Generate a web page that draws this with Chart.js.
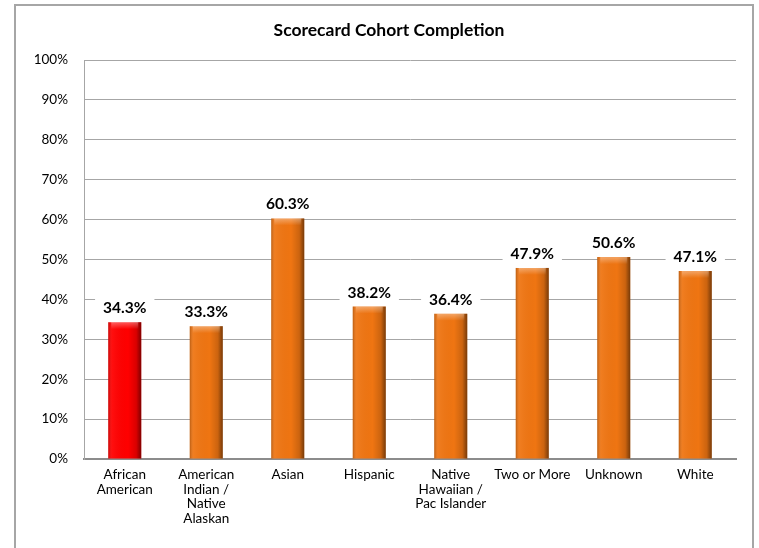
<!DOCTYPE html>
<html>
<head>
<meta charset="utf-8">
<script src="https://cdn.jsdelivr.net/npm/chart.js@4.4.1/dist/chart.umd.min.js"></script>
<style>
  body { margin: 0; background: #fff; }
  #wrap { position: relative; width: 759px; height: 548px; }
</style>
</head>
<body>
<div id="wrap"><canvas id="canvas" width="759" height="548"></canvas></div>
<script>
var categories = [
  ['African', 'American'],
  ['American', 'Indian /', 'Native', 'Alaskan'],
  'Asian',
  'Hispanic',
  ['Native', 'Hawaiian /', 'Pac Islander'],
  'Two or More',
  'Unknown',
  'White'
];
var completion = [34.3, 33.3, 60.3, 38.2, 36.4, 47.9, 50.6, 47.1];
var barColors = ['#FF0000', '#EF7512', '#EF7512', '#EF7512', '#EF7512', '#EF7512', '#EF7512', '#EF7512'];
var yTicks = [0, 10, 20, 30, 40, 50, 60, 70, 80, 90, 100];
var chartTitle = 'Scorecard Cohort Completion';

var fontName = "Lato, 'Liberation Sans', sans-serif";

// outer frame like the spreadsheet chart box, plus the title
var framePlugin = {
  id: 'frame',
  beforeDraw: function(chart){
    var c = chart.ctx;
    c.save();
    c.fillStyle = '#fff';
    c.fillRect(0, 0, chart.width, chart.height);
    c.strokeStyle = '#a6a6a6';
    c.lineWidth = 2;
    c.beginPath();
    c.moveTo(15, 600);
    c.lineTo(15, 5);
    c.lineTo(753, 5);
    c.lineTo(753, 600);
    c.stroke();
    c.fillStyle = '#000';
    c.font = 'bold 17.5px ' + fontName;
    c.textAlign = 'center';
    c.textBaseline = 'middle';
    c.fillText(chartTitle, 389, 30);
    c.restore();
  }
};

// bevel shading on the bars and the value labels above them
var barLabels = {
  id: 'barLabels',
  afterDatasetsDraw: function(chart){
    var c = chart.ctx;
    var meta = chart.getDatasetMeta(0);
    c.save();
    meta.data.forEach(function(bar, i){
      var left = bar.x - bar.width / 2;
      var right = bar.x + bar.width / 2;
      var g = c.createLinearGradient(left, 0, right, 0);
      g.addColorStop(0, 'rgba(0,0,0,0.22)');
      g.addColorStop(0.12, 'rgba(255,255,255,0.06)');
      g.addColorStop(0.6, 'rgba(0,0,0,0)');
      g.addColorStop(0.85, 'rgba(0,0,0,0.15)');
      g.addColorStop(1, 'rgba(0,0,0,0.5)');
      c.fillStyle = g;
      c.fillRect(left, bar.y, bar.width, bar.base - bar.y);
      // top bevel
      var t = c.createLinearGradient(0, bar.y, 0, bar.y + 7);
      t.addColorStop(0, 'rgba(255,255,255,0.35)');
      t.addColorStop(1, 'rgba(255,255,255,0)');
      c.fillStyle = t;
      c.fillRect(left + 3, bar.y, bar.width - 6, 7);
    });

    c.font = 'bold 15.5px ' + fontName;
    c.textAlign = 'center';
    c.textBaseline = 'middle';
    meta.data.forEach(function(bar, i){
      var txt = completion[i].toFixed(1) + '%';
      var w = c.measureText(txt).width;
      var cy = bar.y - 15;
      c.fillStyle = '#fff';
      c.fillRect(bar.x - w / 2 - 8, cy - 9, w + 16, 18);
      c.fillStyle = '#000';
      c.fillText(txt, bar.x, cy + 1);
    });
    c.restore();
  }
};

var ctx = document.getElementById('canvas').getContext('2d');
var chart = new Chart(ctx, {
  type: 'bar',
  data: {
    labels: categories,
    datasets: [{
      data: completion,
      backgroundColor: barColors,
      borderWidth: 0,
      categoryPercentage: 1,
      barPercentage: 0.405
    }]
  },
  options: {
    responsive: false,
    animation: false,
    layout: { padding: { left: 20, right: 23, top: 60, bottom: 0 } },
    plugins: {
      legend: { display: false },
      tooltip: { enabled: false },
      title: { display: false }
    },
    scales: {
      x: {
        grid: { display: false, drawTicks: false },
        border: { display: true, color: '#8c8c8c', width: 2 },
        ticks: {
          color: '#000',
          padding: 8,
          maxRotation: 0,
          autoSkip: false,
          font: { family: fontName, size: 13.5, lineHeight: 1.1 }
        },
        afterFit: function(scale){ scale.height = 89; }
      },
      y: {
        min: 0,
        max: 100,
        afterBuildTicks: function(scale){
          scale.ticks = yTicks.map(function(v){ return { value: v }; });
        },
        grid: { color: '#a6a6a6', lineWidth: 1, drawTicks: false },
        border: { display: true, color: '#a6a6a6', width: 1 },
        ticks: {
          color: '#000',
          padding: 16,
          font: { family: fontName, size: 13.5 },
          callback: function(v){ return v + '%'; }
        },
        afterFit: function(scale){ scale.width = 64; }
      }
    }
  },
  plugins: [framePlugin, barLabels]
});
</script>
</body>
</html>
